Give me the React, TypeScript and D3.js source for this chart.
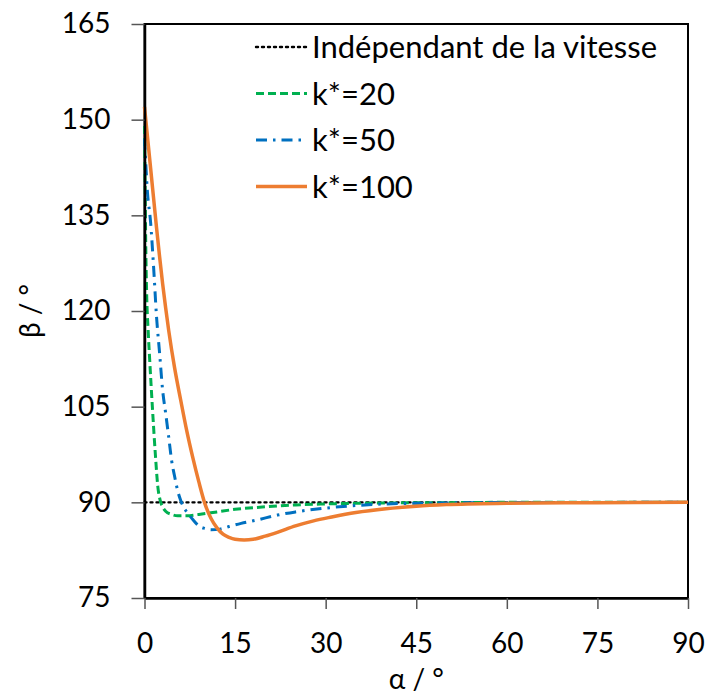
import * as d3 from "d3";
import React, { useEffect, useRef } from "react";

// values (alpha in degrees, beta in degrees)
const alphaRef = [0, 90];
const betaRef = [90, 90];

const alpha20 = [0, 0.1, 0.2, 0.35, 0.6, 0.85, 1.3, 1.8, 2.2, 2.6, 3.0, 3.5, 4.5, 5.5, 7, 9, 12, 15, 20, 25, 30, 40, 50, 60, 90];
const beta20 = [149, 140, 131, 123, 117, 112.5, 105, 97.5, 92.5, 90.3, 89.3, 88.6, 88.1, 87.9, 87.9, 88.1, 88.5, 88.9, 89.3, 89.6, 89.75, 89.9, 89.95, 90, 90];

const alpha50 = [0, 0.5, 1, 1.5, 2, 2.5, 3, 3.5, 4, 4.5, 5, 5.5, 6, 6.5, 7, 8, 9, 10, 11, 12.5, 14, 16, 18.5, 22, 25, 30, 35, 40, 50, 60, 90];
const beta50 = [147, 138.5, 134, 127, 119, 113.4, 107.6, 104, 100.3, 96.5, 94, 91.8, 90.3, 89.2, 88.5, 87.3, 86.3, 85.9, 85.7, 85.8, 86.2, 86.7, 87.2, 88.0, 88.5, 89.1, 89.5, 89.75, 89.9, 89.97, 90];

const alpha100 = [0, 1, 2, 2.5, 3, 3.5, 4, 5, 6, 7, 8, 9, 10, 11, 12, 13, 14, 15, 16.5, 18, 20, 22, 25, 28, 31, 35, 40, 45, 50, 60, 75, 90];
const beta100 = [152, 142.5, 133, 128.5, 124.3, 120.5, 117, 111, 106, 101.2, 97, 93.2, 89.8, 87.5, 86, 85, 84.5, 84.2, 84.1, 84.2, 84.7, 85.3, 86.3, 87.1, 87.7, 88.4, 89.0, 89.4, 89.65, 89.85, 89.95, 90];

const xTicks = [0, 15, 30, 45, 60, 75, 90];
const yTicks = [75, 90, 105, 120, 135, 150, 165];

const seriesNames = ["Indépendant de la vitesse", "k*=20", "k*=50", "k*=100"];

const W = 706;
const H = 695;
const FONT = "Lato, 'Open Sans', sans-serif";

function drawChart(node: SVGSVGElement) {
  const svg = d3.select(node);
  svg.selectAll("*").remove();

  const x = d3.scaleLinear().domain([0, 90]).range([144.5, 688]);
  const y = d3.scaleLinear().domain([75, 165]).range([598, 24]);

  const series = [
    { xs: alphaRef, ys: betaRef, color: "#000000", dash: "2,4", width: 2.4 },
    { xs: alpha20, ys: beta20, color: "#00B050", dash: "8,4", width: 3 },
    { xs: alpha50, ys: beta50, color: "#0070C0", dash: "11,6,2.5,6", width: 3 },
    { xs: alpha100, ys: beta100, color: "#ED7D31", dash: null, width: 3.5 },
  ];

  // plot frame
  svg
    .append("rect")
    .attr("x", x(0))
    .attr("y", y(165))
    .attr("width", x(90) - x(0))
    .attr("height", y(75) - y(165))
    .attr("fill", "none")
    .attr("stroke", "#000")
    .attr("stroke-width", 2);

  // curves
  const line = d3
    .line<[number, number]>()
    .x(d => x(d[0]))
    .y(d => y(d[1]))
    .curve(d3.curveMonotoneX);

  svg
    .append("g")
    .selectAll("path")
    .data(series)
    .join("path")
    .attr("d", s => line(s.xs.map((a, i) => [a, s.ys[i]] as [number, number])))
    .attr("fill", "none")
    .attr("stroke", s => s.color)
    .attr("stroke-width", s => s.width)
    .attr("stroke-dasharray", s => s.dash)
    .attr("stroke-linecap", s => (s.dash === "2,4" ? "round" : "butt"));

  // axes
  const yAxis = svg
    .append("g")
    .attr("transform", `translate(${x(0)},0)`)
    .call(d3.axisLeft(y).tickValues(yTicks).tickSize(13).tickPadding(21).tickSizeOuter(0));
  const xAxis = svg
    .append("g")
    .attr("transform", `translate(0,${y(75)})`)
    .call(d3.axisBottom(x).tickValues(xTicks).tickSize(11).tickPadding(24).tickSizeOuter(0));

  [xAxis, yAxis].forEach(g => {
    g.select(".domain").attr("stroke", "#000").attr("stroke-width", 2.5);
    g.selectAll(".tick line").attr("stroke", "#555").attr("stroke-width", 1.5);
    g.selectAll(".tick text")
      .attr("fill", "#000")
      .style("font-family", FONT)
      .style("font-size", "28px");
  });

  // axis titles
  svg
    .append("text")
    .attr("x", (x(0) + x(90)) / 2)
    .attr("y", 689)
    .attr("text-anchor", "middle")
    .style("font-family", FONT)
    .style("font-size", "28px")
    .text("α / °");

  svg
    .append("text")
    .attr("transform", `translate(40,${(y(75) + y(165)) / 2}) rotate(-90)`)
    .attr("text-anchor", "middle")
    .style("font-family", FONT)
    .style("font-size", "28px")
    .text("β / °");

  // legend
  const legend = svg
    .append("g")
    .selectAll("g")
    .data(series)
    .join("g")
    .attr("transform", (_, i) => `translate(256,${47 + i * 46.5})`);

  legend
    .append("line")
    .attr("x1", 0)
    .attr("x2", 51)
    .attr("stroke", s => s.color)
    .attr("stroke-width", s => s.width)
    .attr("stroke-dasharray", s => s.dash)
    .attr("stroke-linecap", s => (s.dash === "2,4" ? "round" : "butt"));

  legend
    .append("text")
    .attr("x", 56)
    .attr("dy", "0.36em")
    .style("font-family", FONT)
    .style("font-size", "31px")
    .text((_, i) => seriesNames[i]);
}

export default function App() {
  const ref = useRef<SVGSVGElement>(null);

  useEffect(() => {
    if (ref.current) drawChart(ref.current);
  }, []);

  return (
    <svg
      ref={ref}
      width={W}
      height={H}
      style={{ position: "absolute", left: 0, top: 0, background: "#fff" }}
    />
  );
}
